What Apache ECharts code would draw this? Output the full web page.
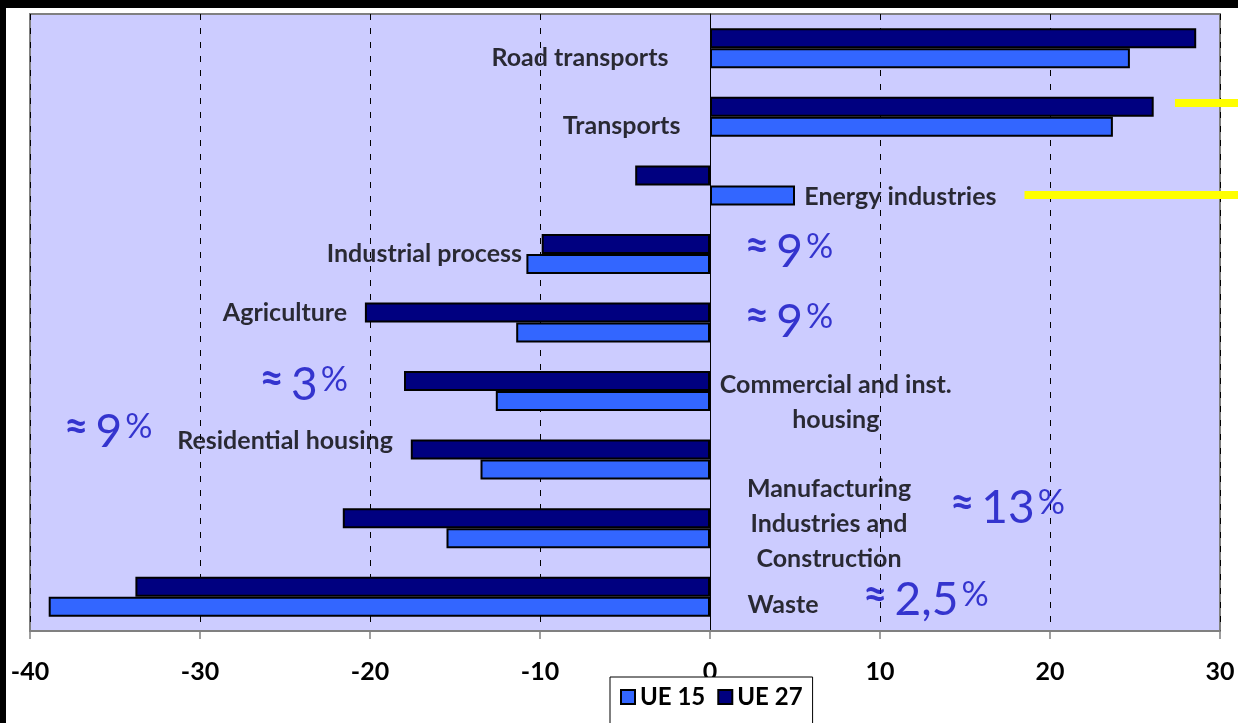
<!DOCTYPE html>
<html>
<head>
<meta charset="utf-8">
<script src="https://cdn.jsdelivr.net/npm/echarts@6/dist/echarts.min.js"></script>
<style>
html,body{margin:0;padding:0;background:#000;width:1238px;height:723px;overflow:hidden;}
#chart{position:absolute;left:6px;top:8px;width:1232px;height:715px;background:#fff;}
</style>
</head>
<body>
<div id="chart"></div>
<script>
// ---- data ----
const categories = ['Road transports','Transports','Energy industries','Industrial process','Agriculture','Commercial and inst. housing','Residential housing','Manufacturing Industries and Construction','Waste'];
const ue15 = [24.7, 23.7, 5.0, -10.8, -11.4, -12.6, -13.5, -15.5, -38.9];
const ue27 = [28.6, 26.1, -4.4, -9.9, -20.3, -18.0, -17.6, -21.6, -33.8];
const xTicks = [-40, -30, -20, -10, 0, 10, 20, 30];

// category label texts and anchors (x in data units, y in category-band units from top)
const labelTexts = ['Road transports','Transports','Energy industries','Industrial process','Agriculture','Commercial and inst.\nhousing','Residential housing','Manufacturing\nIndustries and\nConstruction','Waste'];
const labelX = [-7.65, -5.2, 11.2, -16.8, -25.0, 7.4, -25.0, 7.0, 4.3];
const labelY = [0.64, 1.63, 2.67, 3.50, 4.36, 5.66, 6.23, 7.44, 8.62];

// share annotations
const noteNums = ['9', '9', '3', '9', '13', '2,5'];
const noteX = [4.65, 4.65, -23.9, -35.4, 17.5, 12.7];
const noteY = [3.47, 4.49, 5.41, 6.10, 7.21, 8.55];

// yellow marker lines [x1, x2, y]
const yellowLines = [[27.35, 31.1, 1.30], [18.5, 31.1, 2.64]];

const chart = echarts.init(document.getElementById('chart'));

const FONT = 'Lato';
const BLUE = '#0E0EC2';
const labelData = labelTexts.map((t, i) => ({ name: t, value: [labelX[i], labelY[i]] }));
const noteData = noteNums.map((t, i) => ({ name: t, value: [noteX[i], noteY[i]] }));

chart.setOption({
  backgroundColor: '#ffffff',
  animation: false,
  textStyle: { fontFamily: FONT },
  grid: {
    left: 24, right: 18, top: 6, bottom: 92,
    show: true, backgroundColor: '#CCCCFF', borderColor: '#808080', borderWidth: 2
  },
  legend: {
    data: ['UE 15', 'UE 27'],
    left: 604, top: 669,
    backgroundColor: '#fff', borderColor: '#000', borderWidth: 1,
    padding: [8, 10, 20, 10],
    itemWidth: 14, itemHeight: 14, itemGap: 12,
    icon: 'rect',
    itemStyle: { borderColor: '#000', borderWidth: 2 },
    textStyle: { fontFamily: FONT, fontWeight: 'bold', fontSize: 24, color: '#000' }
  },
  xAxis: {
    type: 'value', min: -40, max: 30, interval: 10,
    axisLine: { show: true, onZero: false, lineStyle: { color: '#808080', width: 2 } },
    axisTick: { show: true, length: 8, lineStyle: { color: '#808080', width: 1.5 } },
    axisLabel: {
      margin: 28, color: '#000', fontFamily: FONT, fontWeight: 'bold', fontSize: 25,
      formatter: v => xTicks.includes(v) ? String(v) : ''
    },
    splitLine: { show: true, lineStyle: { color: '#000', type: [6, 8], width: 1 } }
  },
  yAxis: [{
    type: 'category', data: categories, inverse: true,
    axisLine: { show: true, onZero: true, lineStyle: { color: '#000', width: 1 } },
    axisTick: { show: false }, axisLabel: { show: false }, splitLine: { show: false }
  }, {
    type: 'value', min: 0, max: 9, inverse: true, show: false
  }],
  series: [{
    name: 'UE 27', type: 'bar', data: ue27, barWidth: 20, barGap: '0%',
    itemStyle: { color: '#000080', borderColor: '#000', borderWidth: 2 }
  }, {
    name: 'UE 15', type: 'bar', data: ue15, barWidth: 20, barGap: '0%',
    itemStyle: { color: '#3366FF', borderColor: '#000', borderWidth: 2 }
  }, {
    name: 'labels', type: 'scatter', yAxisIndex: 1, symbolSize: 0, silent: true, z: 6,
    data: labelData,
    label: {
      show: true, position: 'inside', formatter: '{b}', align: 'center', verticalAlign: 'middle',
      fontFamily: FONT, fontWeight: 'bold', fontSize: 25, lineHeight: 35, color: '#000'
    }
  }, {
    name: 'notes', type: 'scatter', yAxisIndex: 1, symbolSize: 0, silent: true, z: 6,
    data: noteData,
    label: {
      show: true, position: 'inside', align: 'center', verticalAlign: 'middle',
      formatter: p => '{a|≈} {n|' + p.name + '} {p|%}',
      rich: {
        a: { fontFamily: FONT, fontSize: 42, color: BLUE, fontWeight: 'bold', padding: [0, 4, 12, 0] },
        n: { fontFamily: FONT, fontSize: 46, color: BLUE, fontWeight: 'normal' },
        p: { fontFamily: FONT, fontSize: 34, color: BLUE, fontWeight: 'normal', padding: [0, 0, 10, 0] }
      }
    }
  }]
});

// yellow marker lines, positioned through the chart's own scales
const gl = yellowLines.map(l => {
  const p1 = chart.convertToPixel({ xAxisIndex: 0, yAxisIndex: 1 }, [l[0], l[2]]);
  const p2 = chart.convertToPixel({ xAxisIndex: 0, yAxisIndex: 1 }, [l[1], l[2]]);
  return {
    type: 'line', z: 50, silent: true,
    shape: { x1: p1[0], y1: p1[1], x2: p2[0], y2: p2[1] },
    style: { stroke: '#FFFF00', lineWidth: 8 }
  };
});
chart.setOption({ graphic: gl });
</script>
</body>
</html>
